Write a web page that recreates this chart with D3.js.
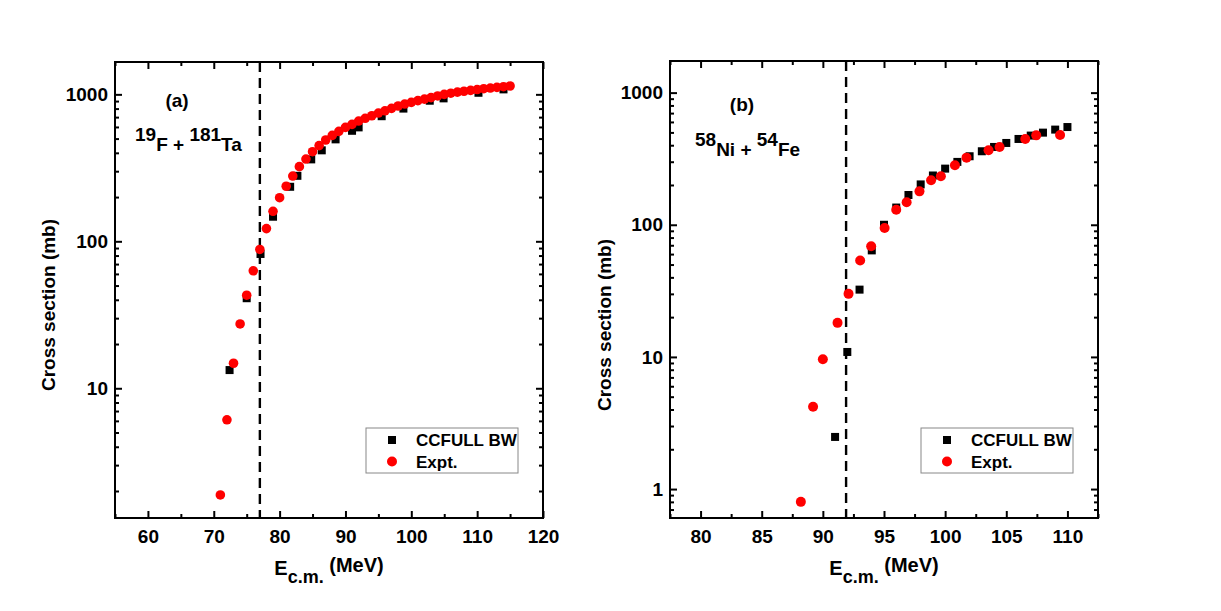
<!DOCTYPE html>
<html>
<head>
<meta charset="utf-8">
<script src="https://cdn.jsdelivr.net/npm/d3@7"></script>
<style>
    body { margin: 0; background: #fff; }
    text { font-family: Arial, "Liberation Sans", Helvetica, sans-serif; font-weight: bold; fill: #000; }
</style>
</head>
<body>
<svg id="chart" width="1221" height="611"></svg>
<script>
// ---- panel (a): 19F + 181Ta ----
const exptA_E = [71, 72, 73, 74, 75, 76, 77, 78, 79, 80, 81, 82, 83, 84, 85, 86, 87, 88, 89, 90,
    91, 92, 93, 94, 95, 96, 97, 98, 99, 100, 101, 102, 103, 104, 105, 106, 107, 108, 109, 110,
    111, 112, 113, 114, 115];
const exptA_sigma = [1.88, 6.1, 14.8, 27.4, 43, 63, 88, 122, 160, 198, 237, 278, 322, 363, 407, 448, 489, 526, 560, 596,
    625, 658, 687, 715, 746, 773, 803, 833, 859, 882, 906, 928, 950, 975, 1000, 1018, 1035, 1050, 1065, 1078,
    1092, 1104, 1116, 1127, 1140];
const ccfullA_E = [72.4, 75.0, 77.1, 79.0, 81.6, 82.7, 84.8, 86.4, 88.5, 91.0, 92.0, 95.5, 98.8, 102.8, 104.9, 110.2, 114.0];
const ccfullA_sigma = [13.3, 41, 82, 147, 235, 279, 361, 416, 494, 565, 596, 710, 800, 905, 939, 1025, 1081];
const barrierA = 77.0;

// ---- panel (b): 58Ni + 54Fe ----
const exptB_E = [88.2, 89.2, 90.0, 91.2, 92.1, 93.05, 93.95, 95.05, 96.0, 96.85, 97.9, 98.85, 99.65, 100.8,
    101.75, 103.55, 104.45, 106.55, 107.45, 109.4];
const exptB_sigma = [0.80, 4.2, 9.6, 18.1, 30.0, 53.6, 68.8, 94.6, 130, 148, 179, 217, 233, 282,
    322, 366, 388, 446, 475, 478];
const ccfullB_E = [91, 92, 93, 94, 95, 96, 97, 98, 99, 100, 101, 102, 103, 104, 105, 106, 107, 108, 109, 110];
const ccfullB_sigma = [2.48, 10.9, 32.3, 64, 100, 135, 168, 202, 236, 266, 299, 330, 360, 388, 416, 446, 473, 498, 525, 549];
const barrierB = 91.9;

const legendLabels = ["CCFULL BW", "Expt."];

const panels = [
    {
        tag: "(a)", left: 115, right: 543, top: 62, bottom: 518,
        xDomain: [55, 120], xMajor: [60, 70, 80, 90, 100, 110, 120], xMinor: [55, 65, 75, 85, 95, 105, 115],
        yDomain: [1.31, 1660], yMajor: [10, 100, 1000],
        expE: exptA_E, expS: exptA_sigma, ccE: ccfullA_E, ccS: ccfullA_sigma, barrier: barrierA,
        reaction: [["19", "F"], ["181", "Ta"]], reactionX: 135, reactionY: 151, tagX: 177, tagY: 107,
        yTitleX: 55, yTitleY: 305, r: 4.8
    },
    {
        tag: "(b)", left: 670, right: 1098, top: 61, bottom: 518,
        xDomain: [77.5, 112.5], xMajor: [80, 85, 90, 95, 100, 105, 110], xMinor: [77.5, 82.5, 87.5, 92.5, 97.5, 102.5, 107.5, 112.5],
        yDomain: [0.604, 1735], yMajor: [1, 10, 100, 1000],
        expE: exptB_E, expS: exptB_sigma, ccE: ccfullB_E, ccS: ccfullB_sigma, barrier: barrierB,
        reaction: [["58", "Ni"], ["54", "Fe"]], reactionX: 695, reactionY: 156, tagX: 742, tagY: 111,
        yTitleX: 611, yTitleY: 325, r: 5
    }
];

const svg = d3.select("#chart");

// minor log ticks 2..9 of each decade, kept inside the domain
function logMinors(domain) {
    const out = [];
    for (let p = Math.floor(Math.log10(domain[0])); p <= Math.ceil(Math.log10(domain[1])); p++) {
        for (let m = 2; m <= 9; m++) {
            const v = m * Math.pow(10, p);
            if (v > domain[0] && v < domain[1]) out.push(v);
        }
    }
    return out;
}

panels.forEach((p) => {
    const w = p.right - p.left;
    const h = p.bottom - p.top;
    const x = d3.scaleLinear().domain(p.xDomain).range([0, w]);
    const y = d3.scaleLog().domain(p.yDomain).range([h, 0]);

    const g = svg.append("g").attr("transform", `translate(${p.left},${p.top})`);

    // ticks on all four sides, pointing inward
    const axes = [
        { orient: d3.axisBottom, scale: x, t: `translate(0,${h})`, major: p.xMajor, minor: p.xMinor, label: true, pad: 12 },
        { orient: d3.axisTop, scale: x, t: "translate(0,0)", major: p.xMajor, minor: p.xMinor, label: false, pad: 8 },
        { orient: d3.axisLeft, scale: y, t: "translate(0,0)", major: p.yMajor, minor: logMinors(p.yDomain), label: true, pad: 7 },
        { orient: d3.axisRight, scale: y, t: `translate(${w},0)`, major: p.yMajor, minor: logMinors(p.yDomain), label: false, pad: 8 }
    ];
    axes.forEach((a) => {
        const majorG = g.append("g").attr("transform", a.t)
            .call(a.orient(a.scale).tickValues(a.major).tickSize(-7).tickSizeOuter(0)
                .tickPadding(a.pad)
                .tickFormat(a.label ? d3.format("d") : ""));
        majorG.select(".domain").remove();
        majorG.selectAll("line").attr("stroke", "#000").attr("stroke-width", 2);
        majorG.selectAll("text").style("font-size", "19px").attr("fill", "#000");
        const minorG = g.append("g").attr("transform", a.t)
            .call(a.orient(a.scale).tickValues(a.minor).tickSize(-4).tickSizeOuter(0).tickFormat(""));
        minorG.select(".domain").remove();
        minorG.selectAll("line").attr("stroke", "#000").attr("stroke-width", 2);
    });

    // frame
    g.append("rect").attr("width", w).attr("height", h)
        .attr("fill", "none").attr("stroke", "#000").attr("stroke-width", 2);

    // barrier (dashed)
    g.append("line")
        .attr("x1", x(p.barrier)).attr("x2", x(p.barrier))
        .attr("y1", 0).attr("y2", h)
        .attr("stroke", "#000").attr("stroke-width", 2.4)
        .attr("stroke-dasharray", "10,6");

    // CCFULL squares
    const sq = 8;
    g.append("g").selectAll("rect")
        .data(d3.zip(p.ccE, p.ccS))
        .join("rect")
        .attr("x", (d) => x(d[0]) - sq / 2)
        .attr("y", (d) => y(d[1]) - sq / 2)
        .attr("width", sq).attr("height", sq)
        .attr("fill", "#000");

    // Expt circles
    g.append("g").selectAll("circle")
        .data(d3.zip(p.expE, p.expS))
        .join("circle")
        .attr("cx", (d) => x(d[0]))
        .attr("cy", (d) => y(d[1]))
        .attr("r", p.r)
        .attr("fill", "#ff0000");

    // legend
    const lg = g.append("g").attr("transform", `translate(${w - 177},${h - 90})`);
    lg.append("rect").attr("width", 152).attr("height", 45)
        .attr("fill", "#fff").attr("stroke", "#888").attr("stroke-width", 1);
    lg.append("rect").attr("x", 22).attr("y", 8).attr("width", sq).attr("height", sq).attr("fill", "#000");
    lg.append("circle").attr("cx", 26).attr("cy", 33.5).attr("r", 5).attr("fill", "#ff0000");
    lg.append("text").attr("x", 50).attr("y", 18).style("font-size", "17px").text(legendLabels[0]);
    lg.append("text").attr("x", 50).attr("y", 40).style("font-size", "17px").text(legendLabels[1]);

    // panel tag and reaction
    svg.append("text").attr("x", p.tagX).attr("y", p.tagY)
        .attr("text-anchor", "middle").style("font-size", "19px").text(p.tag);
    const rt = svg.append("text").attr("x", p.reactionX).attr("y", p.reactionY).style("font-size", "19px");
    rt.append("tspan").attr("dy", -10).text(p.reaction[0][0]);
    rt.append("tspan").attr("dy", 10).text(p.reaction[0][1]);
    rt.append("tspan").text(" + ");
    rt.append("tspan").attr("dy", -10).text(p.reaction[1][0]);
    rt.append("tspan").attr("dy", 10).text(p.reaction[1][1]);

    // axis titles
    const xt = svg.append("text")
        .attr("x", (p.left + p.right) / 2).attr("y", 575)
        .attr("text-anchor", "middle").style("font-size", "20px");
    xt.append("tspan").text("E");
    xt.append("tspan").attr("dy", 8).style("font-size", "18px").text("c.m.");
    xt.append("tspan").attr("dy", -11).text(" (MeV)");

    svg.append("text")
        .attr("transform", `translate(${p.yTitleX},${p.yTitleY}) rotate(-90)`)
        .attr("text-anchor", "middle").style("font-size", "19px")
        .text("Cross section (mb)");
});
</script>
</body>
</html>
